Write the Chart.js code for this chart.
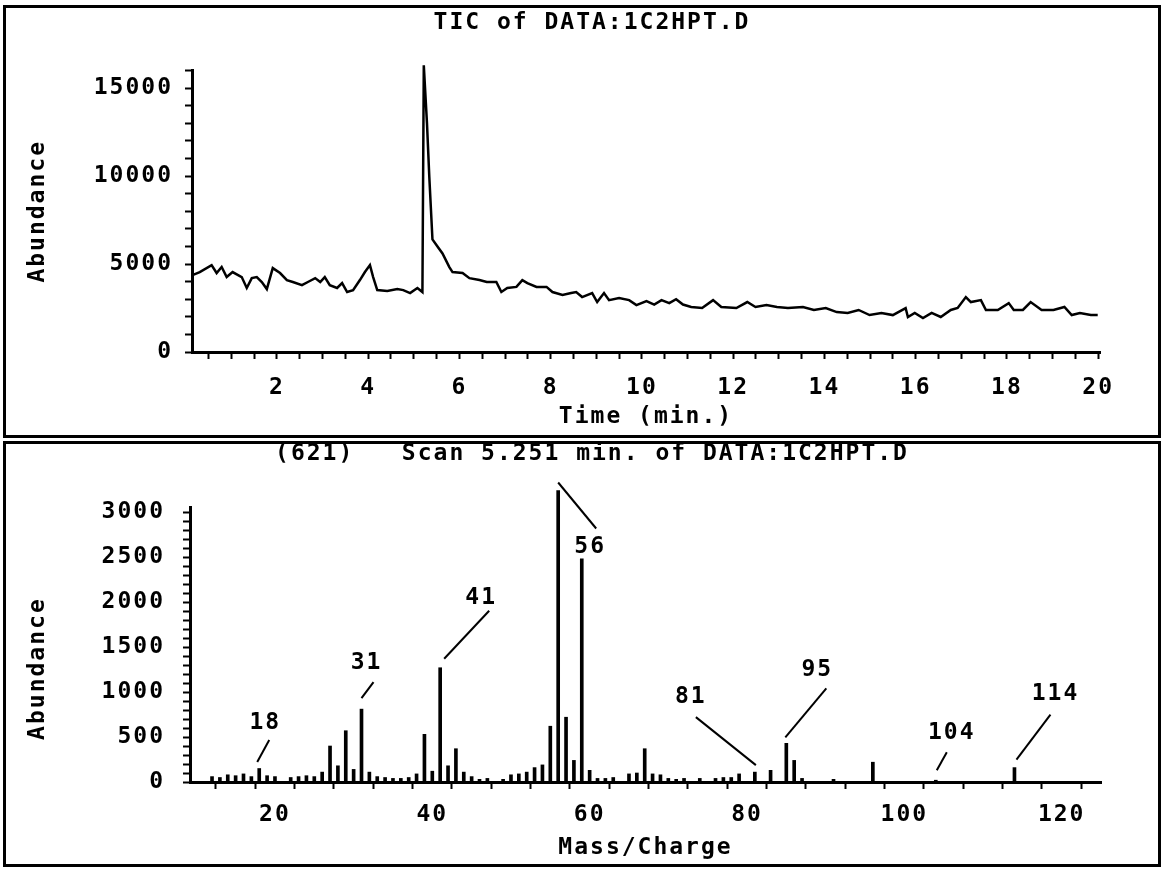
<!DOCTYPE html>
<html>
<head>
<meta charset="utf-8">
<script src="https://cdn.jsdelivr.net/npm/chart.js@4.4.1/dist/chart.umd.min.js"></script>
<style>
html,body{margin:0;padding:0;background:#fff;width:1166px;height:869px;overflow:hidden;}
canvas{position:absolute;left:0;}
#c1{top:0;width:1166px;height:438px;}
#c2{top:438px;width:1166px;height:431px;}
.frame{position:absolute;border:3px solid #000;box-sizing:border-box;pointer-events:none;}
</style>
</head>
<body>
<canvas id="c1" width="1166" height="438"></canvas>
<canvas id="c2" width="1166" height="431"></canvas>
<div class="frame" style="left:3px;top:5px;width:1158px;height:433px"></div>
<div class="frame" style="left:3px;top:441px;width:1158px;height:426px"></div>
<script>
// ---------- Top panel: total ion chromatogram ----------
const tocTitle = 'TIC of DATA:1C2HPT.D';
const tocTime = [0.15,0.31,0.57,0.68,0.79,0.90,1.03,1.23,1.34,1.45,1.56,1.67,1.78,1.91,2.07,2.22,2.35,2.55,2.68,2.84,2.95,3.05,3.16,3.32,3.43,3.54,3.67,3.82,3.93,4.04,4.11,4.20,4.42,4.64,4.77,4.92,5.08,5.19,5.22,5.29,5.34,5.41,5.52,5.63,5.78,5.85,6.07,6.22,6.44,6.60,6.81,6.92,7.05,7.25,7.38,7.49,7.69,7.91,8.04,8.26,8.45,8.56,8.69,8.91,9.02,9.17,9.28,9.50,9.72,9.88,10.10,10.27,10.43,10.60,10.75,10.90,11.08,11.32,11.56,11.74,12.07,12.31,12.49,12.73,12.96,13.20,13.53,13.77,14.03,14.27,14.51,14.75,14.99,15.25,15.50,15.78,15.83,15.98,16.16,16.35,16.55,16.77,16.92,17.10,17.21,17.43,17.54,17.80,18.04,18.15,18.35,18.52,18.76,19.02,19.26,19.42,19.60,19.84,19.99];
const tocAbundance = [4375,4545,4940,4490,4830,4260,4545,4260,3640,4200,4260,3980,3580,4770,4490,4090,3980,3800,3980,4200,3980,4260,3800,3640,3920,3410,3520,4090,4545,4940,4260,3520,3470,3580,3520,3350,3640,3410,16300,13000,10000,6400,6000,5600,4830,4545,4490,4200,4090,3980,3980,3410,3640,3700,4090,3920,3700,3700,3410,3240,3350,3410,3125,3350,2840,3350,2950,3070,2950,2670,2900,2700,2950,2780,3000,2700,2560,2500,2950,2560,2500,2840,2560,2670,2560,2500,2560,2390,2500,2270,2220,2390,2100,2220,2100,2500,1990,2220,1930,2220,1990,2390,2500,3125,2840,2950,2390,2390,2780,2390,2390,2840,2390,2390,2560,2100,2220,2100,2100];
const tocTimeTickLabels = [2,4,6,8,10,12,14,16,18,20];
const tocTimeMinorStep = 0.5;
const tocAbundanceTickLabels = [0,5000,10000,15000];
const tocAbundanceMinorStep = 1000;

// ---------- Bottom panel: mass spectrum ----------
const msTitle = '(621)   Scan 5.251 min. of DATA:1C2HPT.D';
const msMz = [12,13,14,15,16,17,18,19,20,22,23,24,25,26,27,28,29,30,31,32,33,34,35,36,37,38,39,40,41,42,43,44,45,46,47,49,50,51,52,53,54,55,56,57,58,59,60,61,62,63,65,66,67,68,69,70,71,72,74,76,77,78,79,81,83,85,86,87,91,96,104,114];
const msAbundance = [60,50,80,70,90,60,150,70,60,50,60,70,60,110,400,180,570,140,810,110,60,50,40,40,50,90,530,120,1270,180,370,110,60,30,40,30,80,90,110,160,190,620,3240,720,240,2480,130,40,40,50,90,100,370,90,80,40,30,40,40,40,50,50,90,110,130,430,240,40,30,220,20,160];
const msMzTickLabels = [20,40,60,80,100,120];
const msMzMinorStep = 5;
const msAbundanceTickLabels = [0,500,1000,1500,2000,2500,3000];
const msAbundanceMinorStep = 100;
const peakLabels = ['18','31','41','56','81','95','104','114'];
const peakMz = [18,31,41,56,81,85,104,114];

// ---------- styling ----------
const FONT = "'DejaVu Sans Mono', monospace";
const fontSpec = {family: FONT, size: 23, weight: 'bold', lineHeight: 1.2};
Chart.defaults.color = '#000';
// leader line start (dx,dy), end (dx,dy), label centre (dx,dy), relative to bar top
const peakLabelOffsets = [
  [-2,-6.5,10,-28.5,6,-45.5],
  [0,-11,12,-27,5,-46],
  [4,-9,49,-57,41,-70],
  [0,-8,38,38,32,57],
  [1,-7,-59,-55,-64,-75],
  [-1,-6,40,-55,31,-73],
  [1,-10,11,-28,16,-47],
  [2,-8,36,-53,41,-74]
];

const spacingPlugin = {
  id: 'letterSpacing',
  beforeUpdate(c) { c.ctx.letterSpacing = '2px'; },
  beforeDraw(c) { c.ctx.letterSpacing = '2px'; }
};

function stepTicks(min, max, step) {
  const out = [];
  const start = Math.ceil(min / step - 1e-9) * step;
  for (let v = start; v <= max + 1e-9; v += step) out.push({value: Math.round(v * 1000) / 1000});
  return out;
}

function axisCommon() {
  return {
    grid: {drawOnChartArea: false, drawTicks: true, tickLength: 7, tickWidth: 2, tickColor: '#000'},
    border: {display: true, color: '#000', width: 3}
  };
}

function spacerAxis(w) {
  return {
    type: 'linear', position: 'right', display: true,
    grid: {display: false}, border: {display: false}, ticks: {display: false},
    afterFit(s) { s.width = w; }
  };
}

// ---------- top chart ----------
new Chart(document.getElementById('c1'), {
  type: 'line',
  data: {
    datasets: [{
      data: tocTime.map((t, i) => ({x: t, y: tocAbundance[i]})),
      borderColor: '#000', borderWidth: 2.5, pointRadius: 0, tension: 0, fill: false, clip: false,
      xAxisID: 'x', yAxisID: 'y'
    }]
  },
  plugins: [spacingPlugin],
  options: {
    responsive: false, animation: false, devicePixelRatio: 1, events: [],
    layout: {padding: {left: 18, right: 0, top: 0, bottom: 6}},
    plugins: {
      legend: {display: false}, tooltip: {enabled: false},
      title: {display: true, text: tocTitle, color: '#000', font: fontSpec, padding: {top: 9, bottom: 34}}
    },
    scales: {
      x: Object.assign(axisCommon(), {
        type: 'linear', min: 0.14, max: 20.04,
        afterBuildTicks(s) { s.ticks = stepTicks(s.min, s.max, tocTimeMinorStep); },
        afterFit(s) { s.height = 80; },
        ticks: {
          autoSkip: false, maxRotation: 0, minRotation: 0, padding: 15, color: '#000', font: fontSpec,
          callback: v => tocTimeTickLabels.includes(v) ? String(v) : ''
        },
        title: {display: true, text: 'Time (min.)', color: '#000', font: fontSpec, padding: {top: 0, bottom: 1}}
      }),
      y: Object.assign(axisCommon(), {
        type: 'linear', min: 0, max: 16000,
        afterBuildTicks(s) { s.ticks = stepTicks(s.min, s.max, tocAbundanceMinorStep); },
        afterFit(s) { s.width = 174; },
        ticks: {
          autoSkip: false, padding: 12, color: '#000', font: fontSpec,
          callback: v => tocAbundanceTickLabels.includes(v) ? String(v) : ''
        },
        title: {display: true, text: 'Abundance', color: '#000', font: fontSpec, padding: {top: 6, bottom: 0}}
      }),
      yRight: spacerAxis(66)
    }
  }
});

// ---------- bottom chart ----------
const peakLabelPlugin = {
  id: 'peakLabels',
  afterDatasetsDraw(chart) {
    const {ctx, scales: {x, y}} = chart;
    ctx.save();
    ctx.letterSpacing = '2px';
    ctx.strokeStyle = '#000';
    ctx.lineWidth = 2;
    ctx.fillStyle = '#000';
    ctx.font = "bold 23px " + FONT;
    ctx.textAlign = 'center';
    ctx.textBaseline = 'middle';
    peakMz.forEach((m, i) => {
      const px = x.getPixelForValue(m);
      const py = y.getPixelForValue(msAbundance[msMz.indexOf(m)]);
      const o = peakLabelOffsets[i];
      ctx.beginPath();
      ctx.moveTo(px + o[0], py + o[1]);
      ctx.lineTo(px + o[2], py + o[3]);
      ctx.stroke();
      ctx.fillText(peakLabels[i], px + o[4], py + o[5]);
    });
    ctx.restore();
  }
};

new Chart(document.getElementById('c2'), {
  type: 'bar',
  data: {
    datasets: [{
      data: msMz.map((m, i) => ({x: m, y: msAbundance[i]})),
      backgroundColor: '#000', borderWidth: 0, barThickness: 3, clip: false,
      xAxisID: 'x', yAxisID: 'y'
    }]
  },
  plugins: [spacingPlugin, peakLabelPlugin],
  options: {
    responsive: false, animation: false, devicePixelRatio: 1, events: [],
    layout: {padding: {left: 18, right: 0, top: 0, bottom: 7}},
    plugins: {
      legend: {display: false}, tooltip: {enabled: false},
      title: {display: true, text: msTitle, color: '#000', font: fontSpec, padding: {top: 2, bottom: 40}}
    },
    scales: {
      x: Object.assign(axisCommon(), {
        type: 'linear', min: 9.2, max: 125, offset: false,
        afterBuildTicks(s) { s.ticks = stepTicks(s.min, s.max, msMzMinorStep); },
        afterFit(s) { s.height = 80; },
        ticks: {
          autoSkip: false, maxRotation: 0, minRotation: 0, padding: 12, color: '#000', font: fontSpec,
          callback: v => msMzTickLabels.includes(v) ? String(v) : ''
        },
        title: {display: true, text: 'Mass/Charge', color: '#000', font: fontSpec, padding: {top: 0, bottom: 0.5}}
      }),
      y: Object.assign(axisCommon(), {
        type: 'linear', min: 0, max: 3050,
        afterBuildTicks(s) { s.ticks = stepTicks(s.min, s.max, msAbundanceMinorStep); },
        afterFit(s) { s.width = 172; },
        ticks: {
          autoSkip: false, padding: 18, color: '#000', font: fontSpec,
          callback: v => msAbundanceTickLabels.includes(v) ? String(v) : ''
        },
        title: {display: true, text: 'Abundance   ', color: '#000', font: fontSpec, padding: {top: 6, bottom: 0}}
      }),
      yRight: spacerAxis(65)
    }
  }
});
</script>
</body>
</html>
